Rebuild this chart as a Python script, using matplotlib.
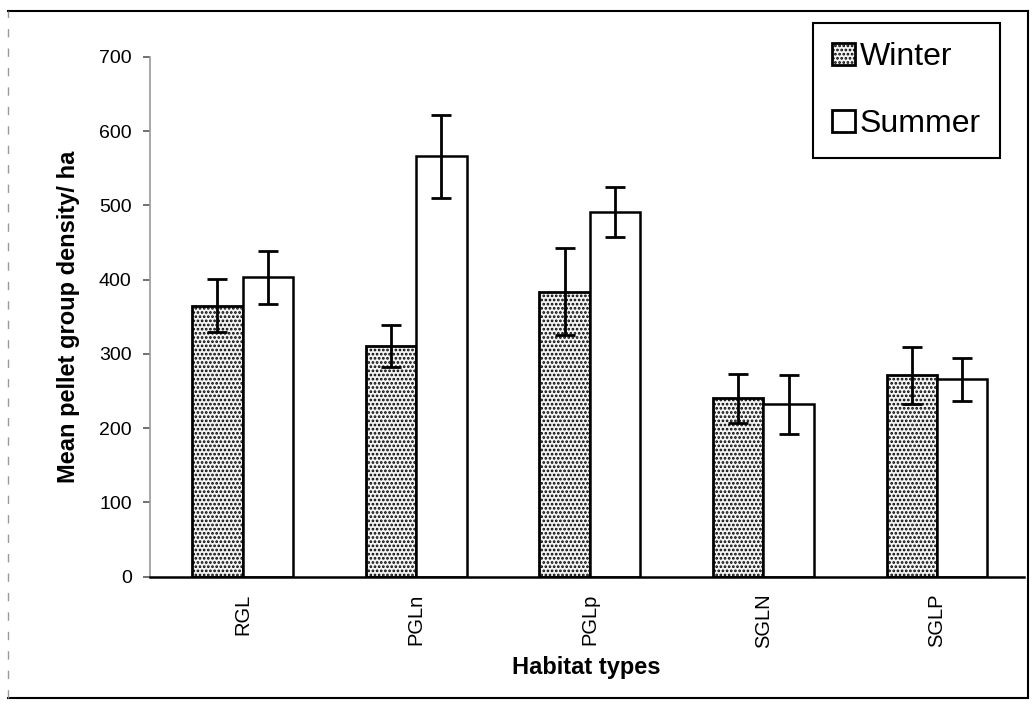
import numpy as np
import matplotlib
matplotlib.use('Agg')
import matplotlib.pyplot as plt
from matplotlib.lines import Line2D
from matplotlib.patches import Patch

plt.rcParams['font.family'] = ['Liberation Sans', 'DejaVu Sans']
plt.rcParams['hatch.linewidth'] = 1.3

habitats = ['RGL', 'PGLn', 'PGLp', 'SGLN', 'SGLP']
winter = [365, 311, 384, 240, 271]
winter_err = [36, 28, 58, 33, 39]
summer = [403, 566, 491, 232, 266]
summer_err = [36, 56, 34, 40, 29]
y_ticks = [0, 100, 200, 300, 400, 500, 600, 700]

fig = plt.figure(figsize=(10.33, 7.2), dpi=100)
ax = fig.add_axes([0.145, 0.199, 0.846, 0.722])

x = np.arange(len(habitats))
w = 0.29

ax.bar(x - w / 2, winter, w, facecolor='#f4f4f4', edgecolor='black',
       hatch='....', linewidth=2.0, label='Winter', zorder=2)
ax.bar(x + w / 2, summer, w, facecolor='white', edgecolor='black',
       linewidth=1.8, label='Summer', zorder=2)
ax.errorbar(x - w / 2, winter, yerr=winter_err, fmt='none', ecolor='black',
            elinewidth=2, capsize=7, capthick=2, zorder=3)
ax.errorbar(x + w / 2, summer, yerr=summer_err, fmt='none', ecolor='black',
            elinewidth=2, capsize=7, capthick=2, zorder=3)

ax.set_xlim(-0.535, 4.5)
ax.set_ylim(0, 700)
ax.set_yticks(y_ticks)
ax.set_yticklabels([str(v) for v in y_ticks], fontsize=14)
ax.set_xticks(x)
ax.set_xticklabels(habitats, rotation=90, fontsize=14.5)
ax.tick_params(axis='x', length=0, pad=12)
ax.tick_params(axis='y', direction='out', length=5, width=1.2, color='0.35', pad=8)

ax.spines['top'].set_visible(False)
ax.spines['right'].set_visible(False)
ax.spines['left'].set_color('0.6')
ax.spines['left'].set_linewidth(1.2)
ax.spines['bottom'].set_linewidth(1.8)

ax.set_ylabel('Mean pellet group density/ ha', fontsize=17, fontweight='bold', labelpad=14)
ax.set_xlabel('Habitat types', fontsize=17, fontweight='bold', labelpad=6)

handles = [Patch(facecolor='#f4f4f4', edgecolor='black', hatch='....', linewidth=2.0),
           Patch(facecolor='white', edgecolor='black', linewidth=2.0)]
leg = fig.legend(handles, ['Winter', 'Summer'], loc='upper right',
                 bbox_to_anchor=(0.968, 0.968), bbox_transform=fig.transFigure,
                 borderaxespad=0, fontsize=23, fancybox=False, edgecolor='black',
                 framealpha=1, handlelength=0.7, handleheight=0.7, handletextpad=0.15,
                 labelspacing=1.15, borderpad=0.6)
leg.get_frame().set_linewidth(1.5)

# outer chart frame
fig.add_artist(Line2D([0.008, 0.995], [0.985, 0.985], color='black', lw=1.5, transform=fig.transFigure))
fig.add_artist(Line2D([0.995, 0.995], [0.03, 0.985], color='black', lw=1.5, transform=fig.transFigure))
fig.add_artist(Line2D([0.008, 0.995], [0.03, 0.03], color='black', lw=1.5, transform=fig.transFigure))
fig.add_artist(Line2D([0.008, 0.008], [0.03, 0.985], color='0.6', lw=1, ls=(0, (6, 8)), transform=fig.transFigure))

fig.savefig('out.png', dpi=100)
